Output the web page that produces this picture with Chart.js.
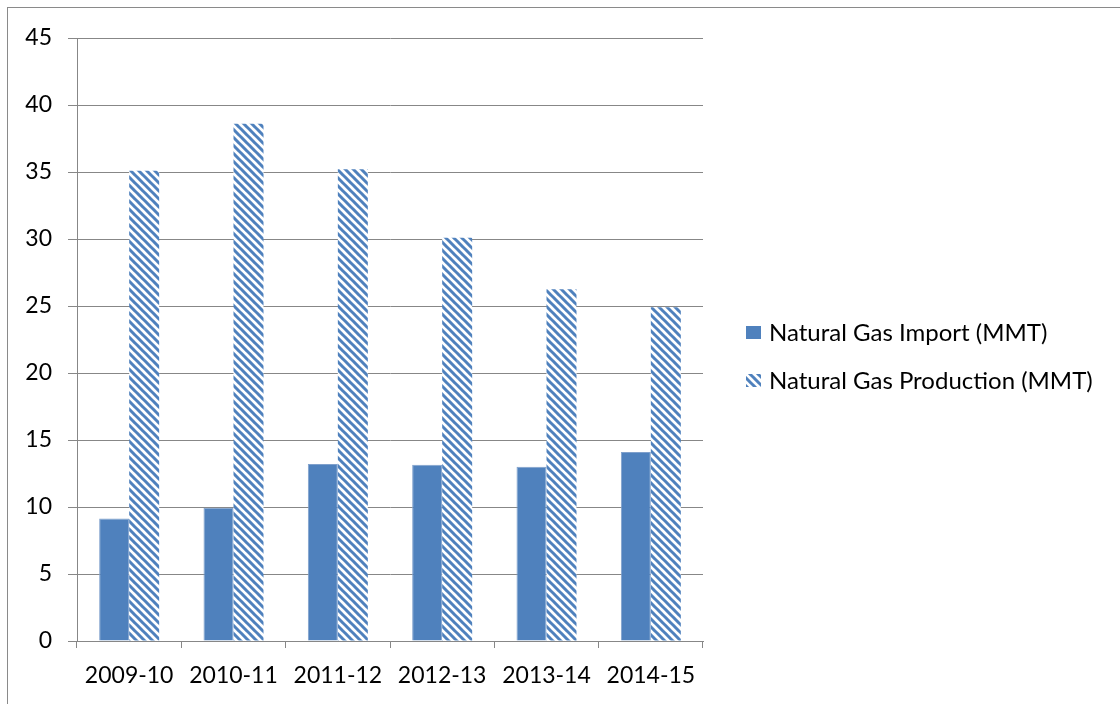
<!DOCTYPE html>
<html>
<head>
<meta charset="utf-8">
<script src="https://cdn.jsdelivr.net/npm/chart.js"></script>
<style>
  html, body { margin: 0; padding: 0; background: #fff; overflow: hidden; }
  #frame { position: absolute; left: 7px; top: 7px; width: 1200px; height: 800px;
           border-left: 1px solid #8a8a8a; border-top: 1px solid #8a8a8a; }
  #chart { position: absolute; left: 0; top: 0; }
</style>
</head>
<body>
<div id="frame"></div>
<canvas id="chart" width="1120" height="704"></canvas>
<script>
// values
const categories = ['2009-10', '2010-11', '2011-12', '2012-13', '2013-14', '2014-15'];
const importMMT = [9.15, 9.95, 13.2, 13.15, 13.0, 14.1];
const productionMMT = [35.1, 38.6, 35.2, 30.1, 26.25, 24.9];
const yMin = 0, yMax = 45, yStep = 5;

const BLUE = '#4f81bd';
const GRID = '#878787';
const FONT = 'Lato';

// diagonal stripe fill for the production bars
function stripes(color) {
    const c = document.createElement('canvas');
    c.width = 8; c.height = 8;
    const g = c.getContext('2d');
    g.fillStyle = '#fff';
    g.fillRect(0, 0, 8, 8);
    g.strokeStyle = color;
    g.lineWidth = 3;
    g.beginPath();
    for (let k = -1; k <= 1; k++) {
        g.moveTo(k * 8 - 1, -1);
        g.lineTo(k * 8 + 9, 9);
    }
    g.stroke();
    return g.createPattern(c, 'repeat');
}

// legend drawn at the right, items come from Chart.js' own label generator
const sideLegend = {
    id: 'sideLegend',
    afterDraw(chart) {
        const ctx = chart.ctx;
        const items = Chart.defaults.plugins.legend.labels.generateLabels(chart);
        ctx.save();
        ctx.font = '24px ' + FONT;
        ctx.textBaseline = 'middle';
        ctx.textAlign = 'left';
        items.forEach((it, i) => {
            const cy = 333 + i * 48;
            ctx.fillStyle = it.fillStyle;
            ctx.fillRect(746, cy - 7, 15, 13);
            ctx.fillStyle = '#000';
            ctx.fillText(it.text, 769, cy);
        });
        ctx.restore();
    }
};

new Chart(document.getElementById('chart'), {
    type: 'bar',
    data: {
        labels: categories,
        datasets: [{
            label: 'Natural Gas Import (MMT)',
            data: importMMT,
            backgroundColor: BLUE,
            borderColor: '#7fa0cc',
            borderWidth: 1
        }, {
            label: 'Natural Gas Production (MMT)',
            data: productionMMT,
            backgroundColor: stripes(BLUE),
            borderWidth: 0
        }]
    },
    options: {
        responsive: false,
        animation: false,
        devicePixelRatio: 1,
        layout: { padding: { top: 38, right: 417, bottom: 0, left: 0 } },
        datasets: { bar: { barPercentage: 1, categoryPercentage: 0.575 } },
        plugins: {
            legend: { display: false },
            tooltip: { enabled: false }
        },
        scales: {
            x: {
                offset: true,
                grid: { offset: true, drawOnChartArea: false, color: GRID, tickLength: 7, lineWidth: 1 },
                border: { color: GRID, width: 1 },
                ticks: { color: '#000', font: { family: FONT, size: 23 }, padding: 14, maxRotation: 0 },
                afterFit(scale) { scale.height = 63; }
            },
            y: {
                min: yMin,
                max: yMax,
                grid: { color: GRID, tickLength: 9, lineWidth: 1 },
                border: { color: GRID, width: 1 },
                ticks: { stepSize: yStep, color: '#000', font: { family: FONT, size: 23 }, padding: 16 },
                afterFit(scale) { scale.width = 77; }
            }
        }
    },
    plugins: [sideLegend]
});
</script>
</body>
</html>
